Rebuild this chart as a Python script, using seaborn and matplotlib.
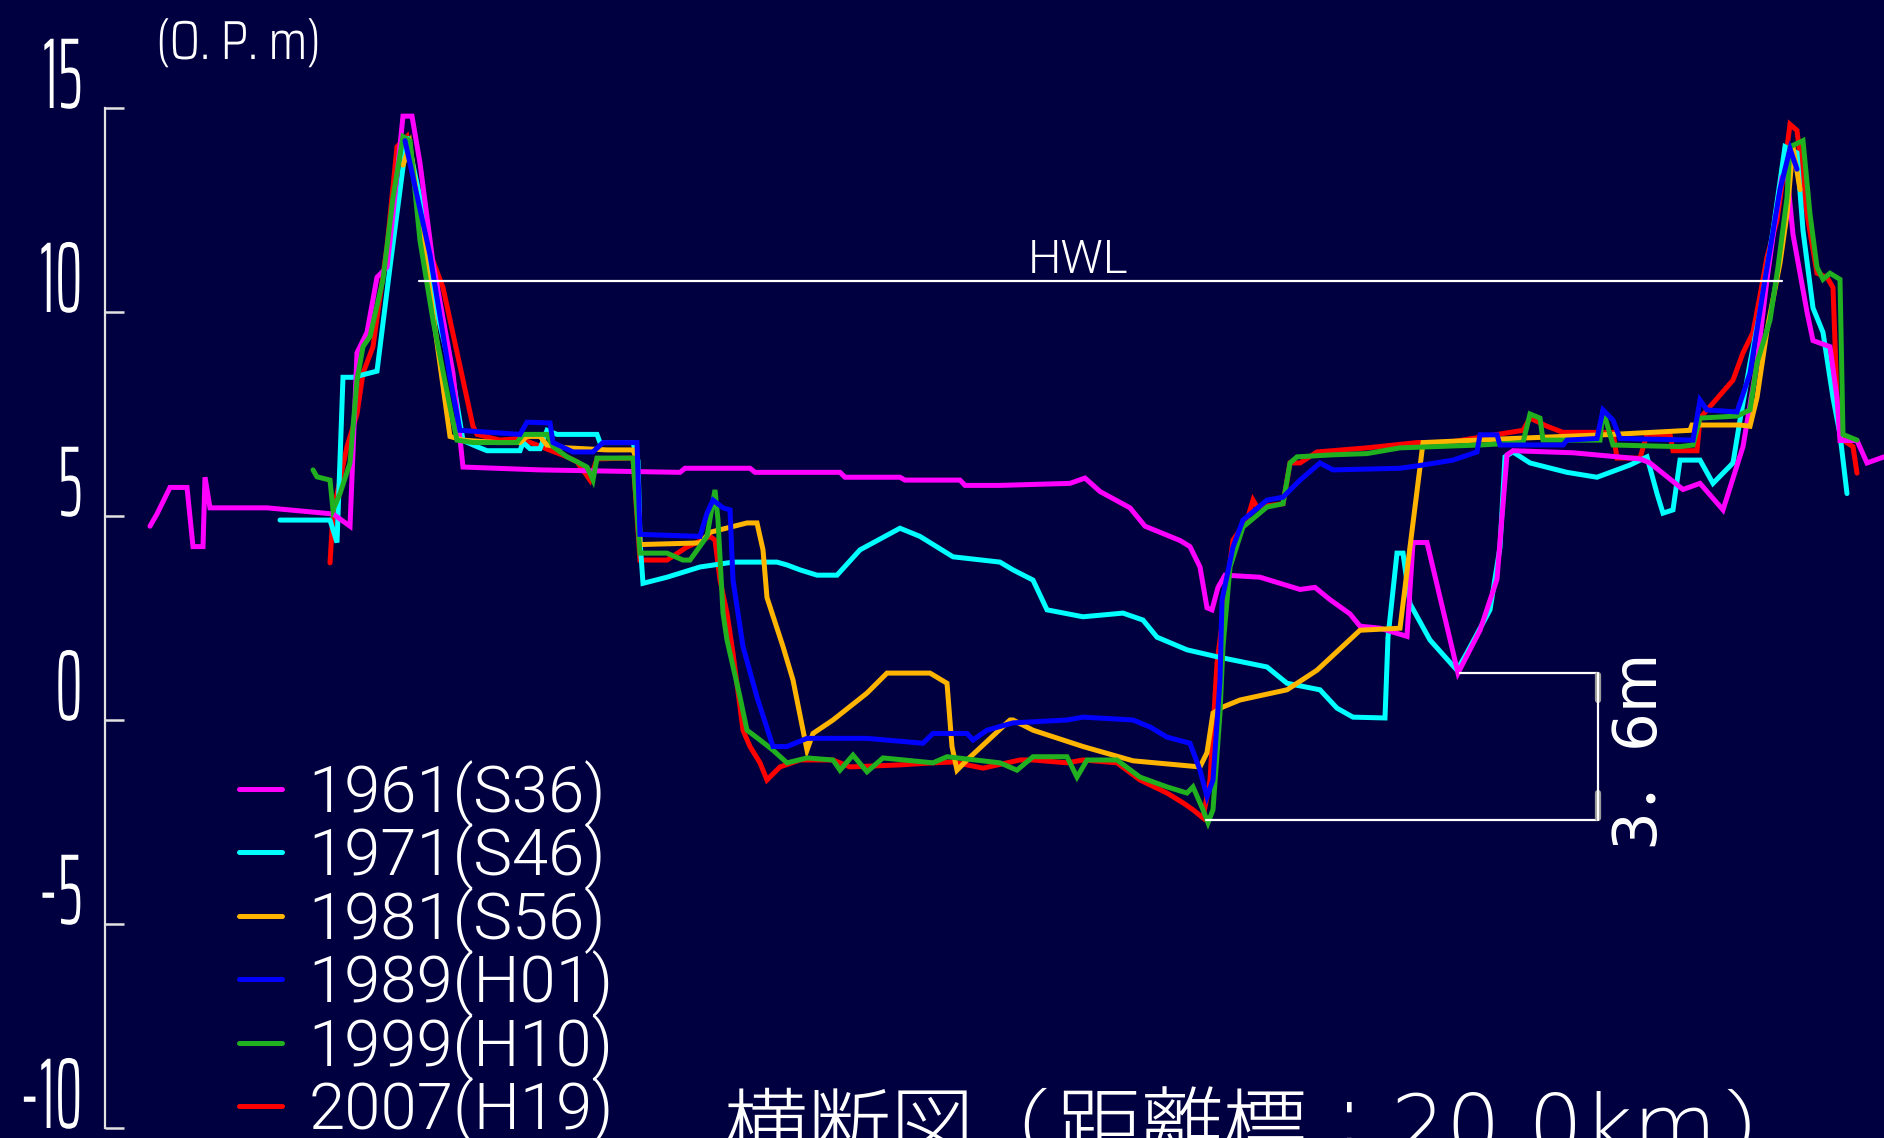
import numpy as np
import pandas as pd
import seaborn as sns
import matplotlib
matplotlib.use("Agg")
import matplotlib.pyplot as plt
from matplotlib.patheffects import AbstractPathEffect
from matplotlib.transforms import Affine2D

# ---------------------------------------------------------------------------
# Cross-section survey data (distance along section, elevation in O.P. m)
# ---------------------------------------------------------------------------
surveys = ["1961(S36)", "1971(S46)", "1981(S56)", "1989(H01)", "1999(H10)", "2007(H19)"]
survey_colors = ["#ff00ff", "#00ffff", "#ffb400", "#0000ff", "#20b020", "#ff0000"]

dist_1961 = [150, 157, 170, 187, 193, 203, 205, 210, 267, 333, 350, 357, 367, 377, 387, 393, 403, 412,
             420, 433, 453, 463, 540, 680, 685, 750, 755, 840, 845, 900, 905, 960, 965, 1000, 1070, 1085,
             1100, 1130, 1145, 1180, 1190, 1200, 1207, 1212, 1218, 1225, 1260, 1280, 1300, 1315, 1330,
             1350, 1360, 1380, 1407, 1413, 1427, 1458, 1480, 1497, 1507, 1513, 1573, 1640, 1650, 1683,
             1700, 1723, 1743, 1757, 1767, 1775, 1782, 1787, 1793, 1807, 1813, 1830, 1837, 1840, 1857,
             1867, 1884]
elev_1961 = [4.75, 5.05, 5.7, 5.7, 4.25, 4.25, 5.95, 5.2, 5.2, 5.05, 4.75, 9.0, 9.5, 10.85, 11.1, 12.4, 14.8,
             14.8, 13.65, 11.2, 8.5, 6.2, 6.13, 6.07, 6.17, 6.17, 6.07, 6.07, 5.95, 5.95, 5.88, 5.88, 5.75,
             5.75, 5.8, 5.93, 5.6, 5.2, 4.75, 4.4, 4.25, 3.75, 2.75, 2.7, 3.25, 3.55, 3.5, 3.35, 3.2, 3.25,
             2.95, 2.6, 2.3, 2.25, 2.05, 4.35, 4.35, 1.15, 2.2, 3.45, 6.5, 6.6, 6.55, 6.4, 6.3, 5.65, 5.8,
             5.15, 6.7, 8.75, 10.8, 12.2, 13.3, 13.4, 11.9, 10.0, 9.3, 9.15, 7.9, 6.85, 6.85, 6.3, 6.45]

dist_1971 = [280, 330, 337, 343, 353, 377, 390, 407, 420, 433, 453, 463, 477, 487, 520, 523, 530, 540, 547,
             557, 597, 600, 633, 638, 640, 643, 667, 700, 733, 777, 787, 800, 817, 837, 860, 900, 920, 953,
             1000, 1013, 1033, 1047, 1083, 1123, 1143, 1157, 1187, 1217, 1267, 1287, 1320, 1337, 1353,
             1385, 1388, 1397, 1403, 1410, 1430, 1457, 1467, 1490, 1500, 1505, 1513, 1530, 1567, 1597,
             1630, 1647, 1657, 1663, 1673, 1680, 1700, 1713, 1733, 1740, 1750, 1760, 1773, 1785, 1797,
             1803, 1813, 1823, 1833, 1840, 1847]
elev_1971 = [4.9, 4.9, 4.35, 8.4, 8.4, 8.55, 11.1, 14.3, 12.8, 10.4, 8.35, 6.85, 6.7, 6.6, 6.6, 6.8, 6.65,
             6.65, 7.1, 7.0, 7.0, 6.8, 6.8, 6.35, 4.4, 3.35, 3.5, 3.75, 3.87, 3.87, 3.8, 3.68, 3.55, 3.55,
             4.17, 4.7, 4.5, 4.0, 3.87, 3.68, 3.43, 2.7, 2.53, 2.62, 2.45, 2.03, 1.72, 1.55, 1.3, 0.9, 0.74,
             0.29, 0.07, 0.05, 2.03, 4.09, 4.09, 2.85, 1.96, 1.22, 1.65, 2.7, 4.24, 6.45, 6.57, 6.3, 6.07,
             5.95, 6.25, 6.45, 5.55, 5.07, 5.15, 6.37, 6.37, 5.8, 6.3, 7.35, 8.75, 10.0, 12.0, 14.05, 13.9,
             12.0, 10.1, 9.5, 7.9, 7.0, 5.55]

dist_1981 = [403, 410, 420, 450, 463, 497, 520, 527, 540, 547, 567, 607, 633, 637, 640, 700, 710, 747, 757,
             763, 767, 783, 793, 807, 813, 833, 867, 887, 930, 947, 952, 957, 967, 1010, 1013, 1033, 1083,
             1133, 1200, 1207, 1213, 1223, 1240, 1287, 1317, 1360, 1400, 1410, 1420, 1423, 1513, 1613,
             1690, 1692, 1740, 1750, 1757, 1767, 1780, 1787, 1793, 1800]
elev_1981 = [13.6, 14.1, 12.25, 6.95, 6.86, 6.8, 6.8, 6.95, 6.95, 6.74, 6.67, 6.62, 6.62, 6.37, 4.3, 4.34,
             4.6, 4.83, 4.83, 4.17, 3.0, 1.8, 0.98, -0.74, -0.33, 0.0, 0.66, 1.15, 1.15, 0.9, -0.65, -1.23,
             -0.98, 0.0, 0.0, -0.25, -0.65, -1.0, -1.15, -0.8, 0.17, 0.32, 0.49, 0.74, 1.22, 2.2, 2.25, 4.24,
             6.2, 6.8, 6.9, 7.0, 7.1, 7.23, 7.23, 7.2, 7.9, 9.55, 11.2, 12.4, 14.05, 13.0]

dist_1989 = [405, 430, 450, 460, 520, 527, 550, 553, 573, 593, 603, 637, 640, 700, 707, 713, 723, 730, 733,
             743, 757, 773, 787, 807, 867, 923, 933, 967, 973, 987, 1013, 1067, 1083, 1133, 1150, 1167,
             1190, 1200, 1207, 1213, 1220, 1222, 1233, 1243, 1267, 1283, 1300, 1320, 1333, 1400, 1423,
             1453, 1477, 1480, 1497, 1500, 1563, 1567, 1597, 1603, 1613, 1620, 1693, 1700, 1707, 1737,
             1750, 1765, 1780, 1790, 1797]
elev_1989 = [14.2, 11.4, 8.4, 7.1, 7.0, 7.3, 7.28, 6.8, 6.57, 6.57, 6.8, 6.8, 4.55, 4.5, 5.07, 5.39, 5.2,
             5.15, 3.43, 1.8, 0.56, -0.65, -0.65, -0.45, -0.45, -0.57, -0.33, -0.33, -0.49, -0.25, -0.07,
             0.0, 0.07, 0.0, -0.17, -0.42, -0.57, -1.23, -1.88, -1.47, 0.98, 2.94, 4.24, 4.9, 5.39, 5.46,
             5.88, 6.3, 6.13, 6.17, 6.25, 6.37, 6.57, 6.99, 6.99, 6.74, 6.74, 6.86, 6.9, 7.6, 7.35, 6.9,
             6.86, 7.84, 7.6, 7.55, 8.5, 10.8, 13.0, 14.0, 13.5]

dist_1999 = [313, 317, 330, 333, 340, 350, 357, 363, 370, 383, 393, 403, 410, 420, 433, 450, 457, 473, 517,
             523, 547, 553, 567, 577, 587, 593, 597, 633, 640, 667, 683, 690, 707, 715, 718, 723, 727, 740,
             747, 760, 773, 787, 807, 833, 840, 853, 867, 883, 933, 947, 1000, 1017, 1033, 1067, 1077, 1087,
             1117, 1140, 1167, 1187, 1193, 1203, 1208, 1213, 1220, 1223, 1230, 1243, 1267, 1283, 1290,
             1297, 1333, 1367, 1400, 1480, 1523, 1530, 1540, 1543, 1600, 1603, 1613, 1680, 1693, 1700,
             1737, 1750, 1757, 1770, 1778, 1787, 1790, 1803, 1810, 1817, 1823, 1830, 1840, 1843, 1857]
elev_1999 = [6.13, 5.96, 5.88, 5.15, 5.55, 6.3, 8.33, 9.15, 9.4, 10.8, 12.8, 14.3, 14.2, 11.75, 9.8, 7.67,
             6.86, 6.8, 6.8, 7.0, 7.0, 6.7, 6.45, 6.33, 6.2, 5.88, 6.42, 6.42, 4.09, 4.09, 3.92, 3.92, 4.5,
             5.64, 4.9, 2.62, 1.96, 0.56, -0.25, -0.49, -0.74, -1.05, -0.93, -0.98, -1.23, -0.86, -1.27,
             -0.93, -1.05, -0.9, -1.05, -1.23, -0.9, -0.9, -1.4, -0.98, -0.98, -1.4, -1.64, -1.79, -1.64,
             -2.2, -2.52, -2.2, 0.17, 1.8, 3.75, 4.73, 5.22, 5.3, 6.3, 6.45, 6.5, 6.53, 6.67, 6.74, 6.8,
             7.5, 7.4, 6.86, 6.86, 7.6, 6.74, 6.7, 6.74, 7.4, 7.45, 7.6, 8.75, 9.8, 11.1, 12.8, 14.05, 14.2,
             12.4, 11.1, 10.8, 10.95, 10.8, 7.0, 6.86]

dist_2007 = [330, 333, 347, 357, 363, 373, 387, 397, 407, 420, 430, 443, 473, 477, 500, 520, 567, 577, 590,
             597, 633, 640, 667, 687, 710, 715, 720, 727, 733, 743, 750, 760, 767, 780, 800, 833, 850, 900,
             933, 953, 983, 1020, 1033, 1067, 1083, 1117, 1140, 1167, 1183, 1193, 1203, 1210, 1217, 1233,
             1247, 1253, 1257, 1283, 1290, 1300, 1317, 1367, 1417, 1447, 1523, 1530, 1547, 1563, 1613,
             1617, 1640, 1647, 1670, 1673, 1697, 1700, 1733, 1743, 1753, 1760, 1767, 1777, 1783, 1790,
             1797, 1807, 1817, 1827, 1833, 1837, 1843, 1853, 1857]
elev_2007 = [3.85, 5.07, 6.7, 7.5, 8.5, 9.15, 11.6, 14.05, 14.3, 12.6, 11.45, 10.6, 7.2, 7.0, 6.86, 6.9, 6.45,
             6.33, 5.88, 6.4, 6.42, 3.92, 3.92, 4.24, 4.5, 4.41, 3.43, 2.62, 1.64, -0.25, -0.65, -1.05, -1.47,
             -1.15, -0.98, -0.98, -1.15, -1.1, -1.05, -1.03, -1.18, -0.98, -0.98, -1.05, -0.98, -1.05, -1.47,
             -1.79, -2.03, -2.2, -2.4, -1.47, 1.4, 4.41, 4.9, 5.39, 5.22, 5.3, 6.3, 6.3, 6.57, 6.67, 6.8, 6.8,
             7.1, 7.4, 7.2, 7.05, 7.05, 6.42, 6.42, 7.0, 7.0, 6.6, 6.6, 7.4, 8.33, 9.0, 9.5, 10.4, 11.35,
             12.25, 13.3, 14.6, 14.45, 12.4, 10.95, 10.85, 10.6, 7.9, 6.86, 6.7, 6.05]

hwl_level = 10.75                      # high water level (O.P. m)
hwl_from, hwl_to = 419, 1782
scour_depth = 3.6                      # bed lowering annotated on the right
scour_top = 1.15                       # 1961 low-water channel bottom
scour_bottom = scour_top - scour_depth
scour_x_low, scour_x_high, scour_x_bar = 1206, 1460, 1598

y_ticks = [15, 10, 5, 0, -5, -10]
y_tick_labels = ["15", "10", "5", "0", "-5", "-10"]

title_parts = ["横断図（距離標：", "20.0km", "）"]


class VerticalStretch(AbstractPathEffect):
    """Draw glyphs stretched vertically about their baseline (tall, narrow lettering)."""

    def __init__(self, factor):
        super().__init__()
        self.factor = factor

    def draw_path(self, renderer, gc, tpath, affine, rgbFace=None):
        renderer.draw_path(gc, tpath, Affine2D().scale(1.0, self.factor) + affine, rgbFace)


# ---------------------------------------------------------------------------
frames = []
for name, d, e in zip(surveys,
                      [dist_1961, dist_1971, dist_1981, dist_1989, dist_1999, dist_2007],
                      [elev_1961, elev_1971, elev_1981, elev_1989, elev_1999, elev_2007]):
    frames.append(pd.DataFrame({"dist": d, "elev": e, "survey": name}))
df = pd.concat(frames, ignore_index=True)

BG = "#000040"
FG = "#ffffff"
AXIS = "#e2e2e2"

sns.set_theme(style="white")
plt.rcParams["font.family"] = ["Roboto", "Noto Sans CJK JP", "DejaVu Sans"]

W, H = 1884, 1138
fig = plt.figure(figsize=(W / 100, H / 100), dpi=100, facecolor=BG)
ax = fig.add_axes([0, 0, 1, 1])
ax.set_facecolor(BG)

# elevation scale: 0 m at 720 px from the top, 40.8 px per metre
ax.set_xlim(0, W)
ax.set_ylim((720 - H) / 40.8, 720 / 40.8)

sns.lineplot(data=df, x="dist", y="elev", hue="survey", hue_order=surveys,
             palette=survey_colors, sort=False, estimator=None, linewidth=3.6,
             ax=ax, legend=True)

z = {"1961(S36)": 2.6, "1971(S46)": 2.5, "1981(S56)": 2.7, "1989(H01)": 3.0,
     "1999(H10)": 2.9, "2007(H19)": 2.4}
for line, name in zip(ax.lines[:len(surveys)], surveys):
    line.set_zorder(z[name])
    line.set_solid_joinstyle("miter")

# axis: only a left spine with inward ticks
for s in ["top", "right", "bottom"]:
    ax.spines[s].set_visible(False)
ax.spines["left"].set_position(("data", 105))
ax.spines["left"].set_bounds(-10, 15)
ax.spines["left"].set_color(AXIS)
ax.spines["left"].set_linewidth(1.6)
ax.set_xticks([])
ax.set_yticks(y_ticks)
ax.set_yticklabels(y_tick_labels, fontfamily="Saira ExtraCondensed", fontweight=300,
                   fontsize=50, color=FG)
ax.tick_params(axis="y", left=True, direction="in", length=14, width=1.8, color=AXIS, pad=16)
for lab in ax.get_yticklabels():
    lab.set_verticalalignment("baseline")
    lab.set_path_effects([VerticalStretch(1.45)])
ax.set_xlabel("")
ax.set_ylabel("")

unit = ax.text(156, 16.2, "(O. P. m)", ha="left", va="baseline", color=FG,
               fontfamily="Saira SemiCondensed", fontweight=300, fontsize=36)
unit.set_path_effects([VerticalStretch(1.1)])

# HWL
ax.plot([hwl_from, hwl_to], [hwl_level, hwl_level], color=FG, lw=1.6, zorder=4)
ax.text(1078, hwl_level + 0.2, "HWL", ha="center", va="baseline", color=FG,
        fontweight=300, fontsize=34)

# bed lowering bracket
ax.plot([scour_x_high, scour_x_bar], [scour_top, scour_top], color=FG, lw=1.6, zorder=4)
ax.plot([scour_x_low, scour_x_bar], [scour_bottom, scour_bottom], color=FG, lw=1.6, zorder=4)
ax.plot([scour_x_bar, scour_x_bar], [scour_top - 0.05, scour_top - 0.65], color="#9a9a9a", lw=4.5,
        zorder=4, solid_capstyle="round")
ax.plot([scour_x_bar, scour_x_bar], [scour_bottom + 0.05, scour_bottom + 0.65], color="#9a9a9a", lw=4.5,
        zorder=4, solid_capstyle="round")
ax.plot([scour_x_bar, scour_x_bar], [scour_top, scour_bottom], color=FG, lw=1.6, zorder=5)
ax.text(1636, (scour_top + scour_bottom) / 2, f"{scour_depth:.1f}".replace(".", "．") + "m",
        rotation=90, ha="center", va="center", color=FG, fontsize=44,
        fontfamily=["DejaVu Sans", "Noto Sans CJK JP"])

# legend
old = ax.get_legend()
handles = list(old.legend_handles)
labels = [t.get_text() for t in old.get_texts()]
old.remove()
leg = ax.legend(handles, labels, loc="center left", bbox_to_anchor=(239 / W, (H - 952) / H),
                frameon=False, handlelength=0.66, handletextpad=0.40,
                labelspacing=-0.05, borderpad=0, borderaxespad=0,
                prop={"family": "Roboto", "weight": 300, "size": 47})
for hdl in leg.legend_handles:
    hdl.set_linewidth(3.6)
for t in leg.get_texts():
    t.set_color(FG)

# title along the bottom edge, set in three runs so the numerals get a wide face
title_base = -10.69
title_styles = [
    dict(fontsize=60, fontfamily=["M PLUS 1p", "Noto Sans CJK JP"], fontweight=300),
    dict(fontsize=62, fontfamily=["DejaVu Sans"], fontweight=200),
    dict(fontsize=60, fontfamily=["M PLUS 1p", "Noto Sans CJK JP"], fontweight=300),
]
x_run = 724.0
fig.canvas.draw()
renderer = fig.canvas.get_renderer()
for part, style in zip(title_parts, title_styles):
    t = ax.text(x_run, title_base, part, ha="left", va="baseline", color=FG, clip_on=False, **style)
    bb = t.get_window_extent(renderer=renderer)
    x_run = ax.transData.inverted().transform((bb.x1, 0))[0]

fig.savefig("out.png", dpi=100, facecolor=BG)
